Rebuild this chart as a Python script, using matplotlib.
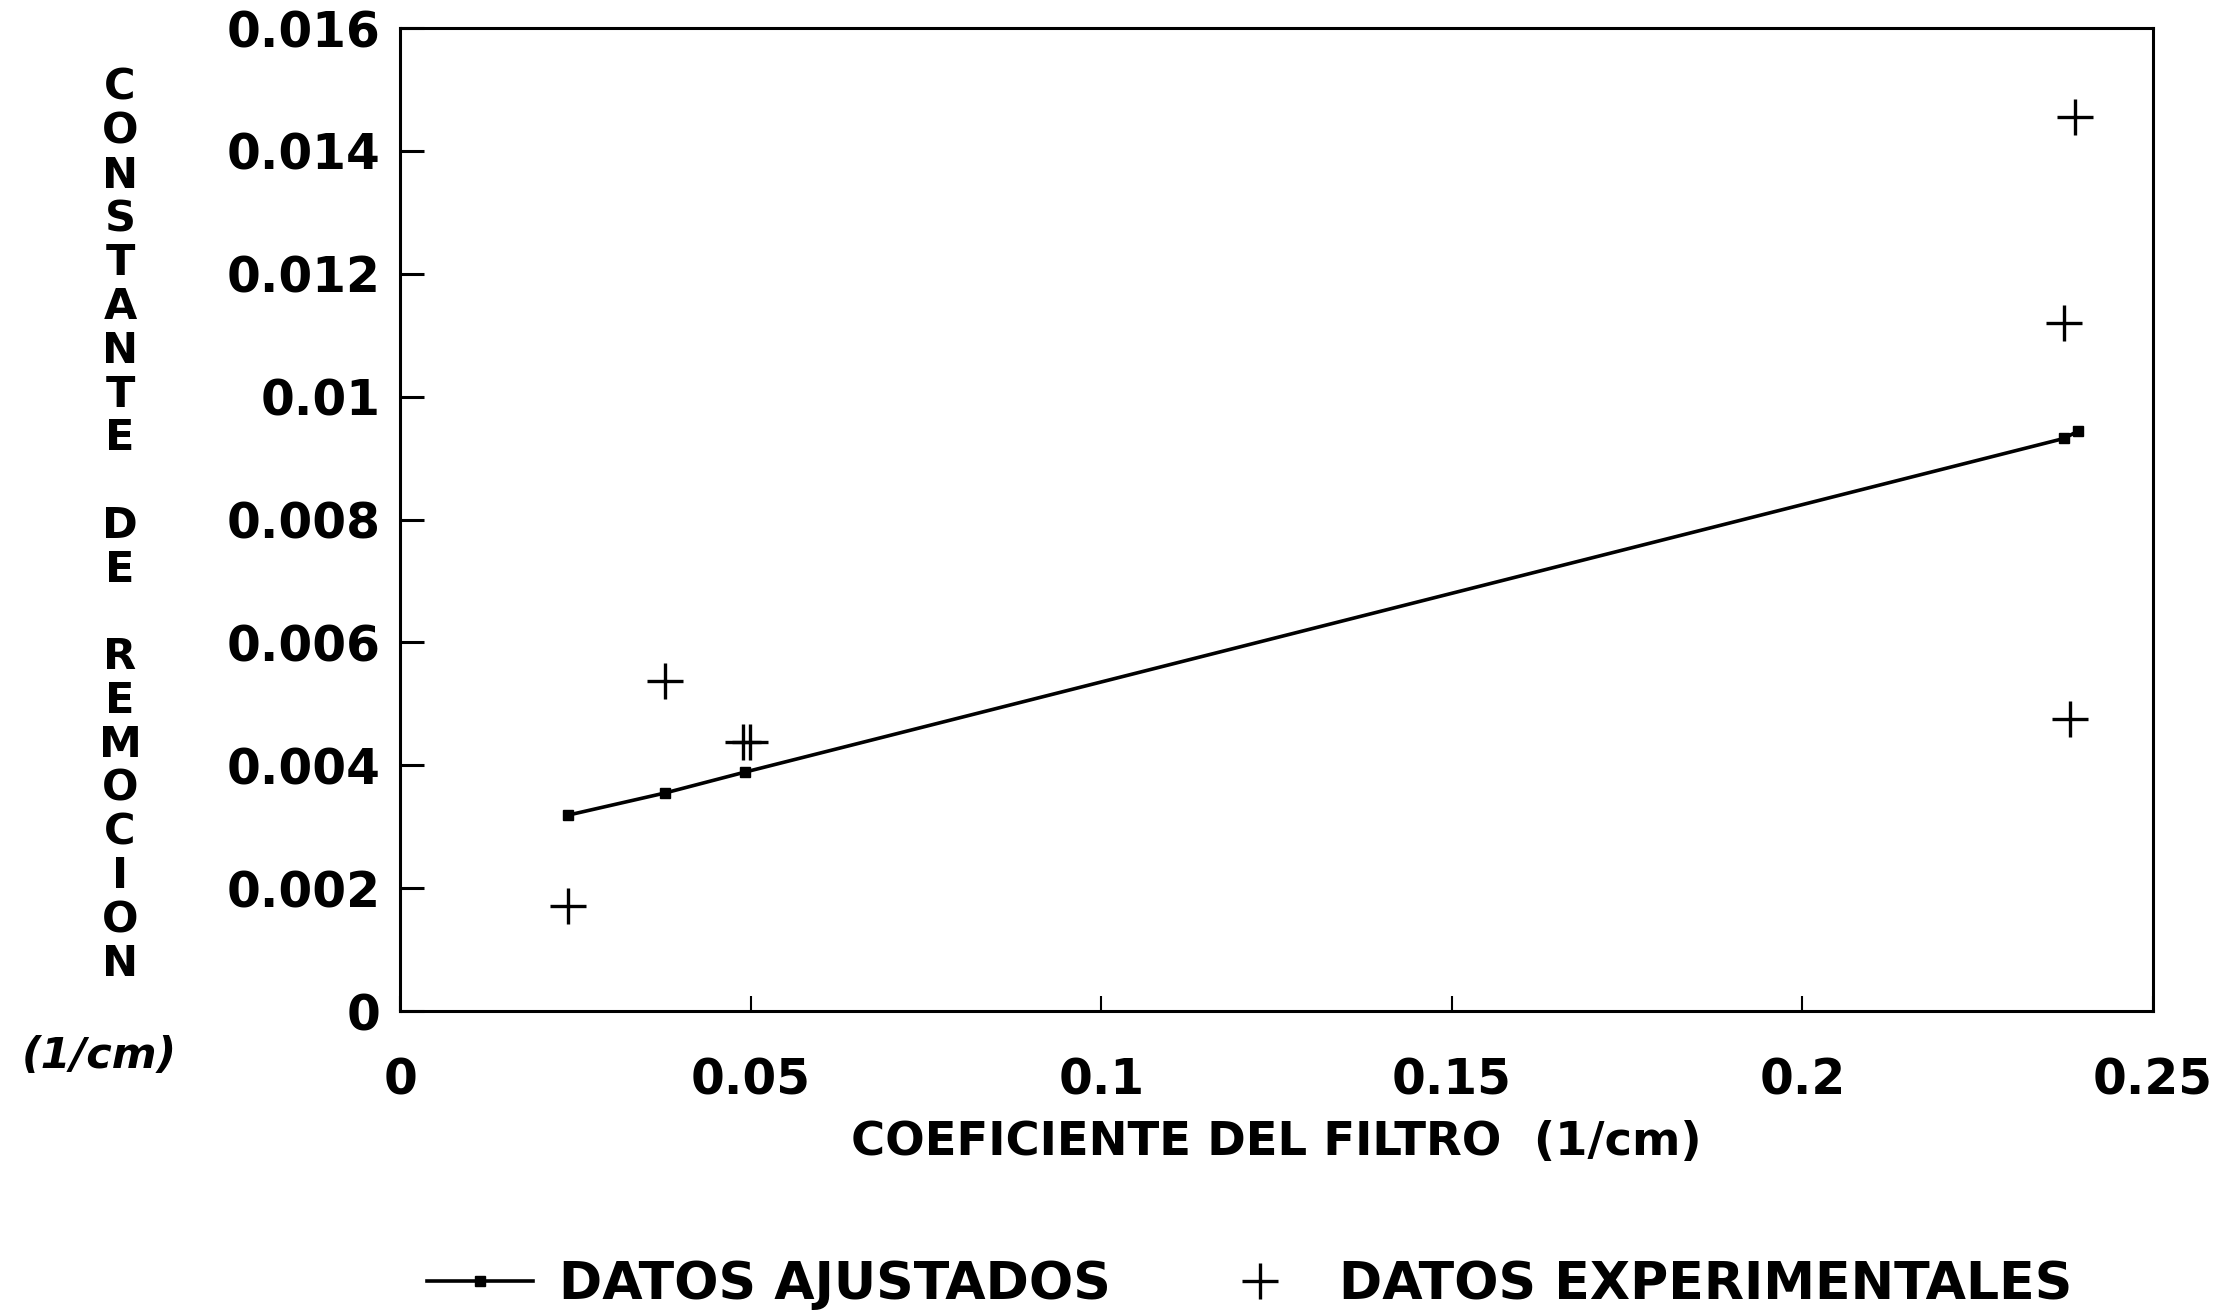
import matplotlib.pyplot as plt
from matplotlib.ticker import FixedLocator, FixedFormatter

# fitted line (DATOS AJUSTADOS)
fit_x = [0.0240, 0.0378, 0.0492, 0.2373, 0.2393]
fit_y = [0.00319, 0.00355, 0.00389, 0.00932, 0.00944]

# experimental points (DATOS EXPERIMENTALES)
exp_x = [0.0240, 0.0378, 0.0489, 0.0499, 0.2389, 0.2373, 0.2381]
exp_y = [0.00171, 0.00537, 0.00438, 0.00438, 0.01456, 0.0112, 0.00475]

xticks = [0, 0.05, 0.1, 0.15, 0.2, 0.25]
xtick_labels = ['0', '0.05', '0.1', '0.15', '0.2', '0.25']
yticks = [0, 0.002, 0.004, 0.006, 0.008, 0.01, 0.012, 0.014, 0.016]
ytick_labels = ['0', '0.002', '0.004', '0.006', '0.008', '0.01', '0.012', '0.014', '0.016']

ylabel_text = 'CONSTANTE DE REMOCION'
xlabel_text = 'COEFICIENTE DEL FILTRO  (1/cm)'
legend_labels = ['DATOS AJUSTADOS', 'DATOS EXPERIMENTALES']

plt.rcParams['font.family'] = 'DejaVu Sans'
plt.rcParams['font.weight'] = 'bold'

fig = plt.figure(figsize=(22.24, 13.10), dpi=100)
ax = fig.add_axes([0.1799, 0.2282, 0.7882, 0.7504])

l1, = ax.plot(fit_x, fit_y, color='black', lw=2.6, marker='s', ms=7,
              label=legend_labels[0])
l2, = ax.plot(exp_x, exp_y, ls='none', marker='+', ms=26, mew=2.4,
              color='black', label=legend_labels[1])

ax.set_xlim(0, 0.25)
ax.set_ylim(0, 0.016)
ax.xaxis.set_major_locator(FixedLocator(xticks))
ax.xaxis.set_major_formatter(FixedFormatter(xtick_labels))
ax.yaxis.set_major_locator(FixedLocator(yticks))
ax.yaxis.set_major_formatter(FixedFormatter(ytick_labels))

for s in ax.spines.values():
    s.set_linewidth(2.2)

ax.tick_params(axis='y', direction='in', length=17, width=2.2, labelsize=35, pad=14)
ax.tick_params(axis='x', direction='in', length=11, width=1.5, labelsize=35, pad=33)
for lab in ax.get_xticklabels() + ax.get_yticklabels():
    lab.set_fontweight('bold')

ax.set_xlabel(xlabel_text, fontsize=33.5, fontweight='bold', labelpad=11)

# stacked vertical y-label, one letter per line
y_top = 1 - 88 / 1310
step = 43.8 / 1310
for i, ch in enumerate(ylabel_text):
    if ch != ' ':
        fig.text(0.054, y_top - i * step, ch, fontsize=31, fontweight='bold',
                 ha='center', va='center')
fig.text(0.0446, 1 - 1056 / 1310, '(1/cm)', fontsize=31, fontweight='bold',
         style='italic', ha='center', va='center')

fig.legend(handles=[l1, l2], loc='center', bbox_to_anchor=(0.5618, 0.019),
           ncol=2, frameon=False, handlelength=2.04,
           handletextpad=0.5, columnspacing=1.84, borderpad=0,
           prop={'weight': 'bold', 'size': 37.5})

fig.savefig('out.png', dpi=100, facecolor='white')
